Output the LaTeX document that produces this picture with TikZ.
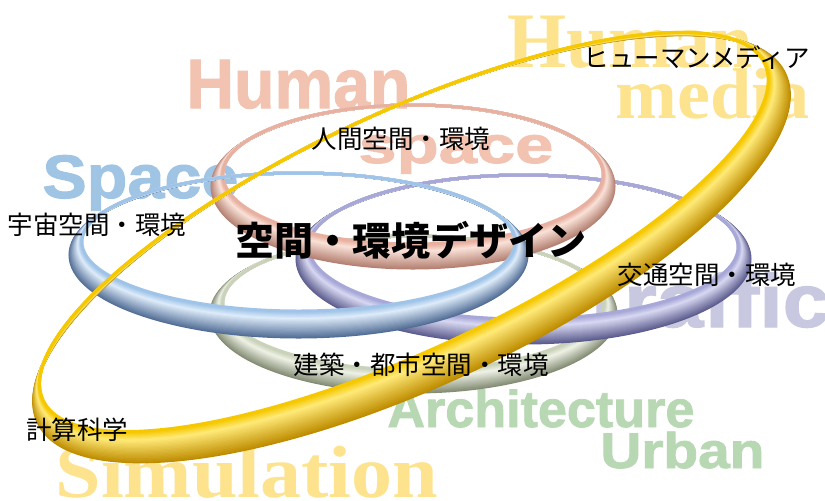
\documentclass[tikz,border=0pt]{standalone}
\usepackage{fontspec}
\usepackage{graphicx}
\newfontfamily\cjk{Noto Sans CJK JP}
\newfontfamily\heavysans[BoldFeatures={FakeBold=1.5}]{Liberation Sans}
\newfontfamily\boldserif{Liberation Serif}
\definecolor{wsalmon}{RGB}{243,195,178}
\definecolor{wblue}{RGB}{160,196,228}
\definecolor{wyellow}{RGB}{253,227,142}
\definecolor{wlav}{RGB}{200,200,224}
\definecolor{wgreen}{RGB}{184,216,180}
\definecolor{rsalb}{RGB}{232,176,160}
\definecolor{rsalh}{RGB}{250,226,216}
\definecolor{rsald}{RGB}{180,128,114}
\definecolor{rblub}{RGB}{160,196,232}
\definecolor{rbluh}{RGB}{222,236,250}
\definecolor{rblud}{RGB}{82,110,150}
\definecolor{rpurb}{RGB}{168,168,216}
\definecolor{rpurh}{RGB}{216,216,242}
\definecolor{rpurd}{RGB}{92,92,142}
\definecolor{rgrnb}{RGB}{202,210,186}
\definecolor{rgrnh}{RGB}{238,242,230}
\definecolor{rgrnd}{RGB}{132,140,116}
\definecolor{rylwb}{RGB}{246,200,0}
\definecolor{rylwh}{RGB}{255,234,120}
\definecolor{rylwd}{RGB}{190,140,0}
% #1 cx, #2 cy, #3 rx0, #4 ry0, #5 sweep s, #6 widen w, #7 angle, #8 colour prefix
\newcommand{\tubering}[8]{%
 \begin{scope}[shift={(#1,#2)},rotate=#7]
  \foreach \i in {24,23,...,0}{%
   \ifnum\i<6\relax
     \pgfmathtruncatemacro\p{\i*100/6}%
     \colorlet{tubecol}{#8h!\p!#8b}%
   \else
     \pgfmathtruncatemacro\p{(\i-6)*100/18}%
     \colorlet{tubecol}{#8d!\p!#8h}%
   \fi
   \draw[tubeline,draw=tubecol] (0,{#5*\i/24}) ellipse [x radius={#3+#6*\i/24}, y radius={#4+#5*\i/24}];
  }%
 \end{scope}}
\begin{document}
\begin{tikzpicture}[x=0.5pt,y=-0.5pt,
  tubeline/.style={line width=1.5pt},
  bigword/.style={anchor=base west,inner sep=0pt},
  lab/.style={inner sep=0pt,font=\cjk\fontsize{12.75pt}{14pt}\selectfont}]
\useasboundingbox (0,0) rectangle (825,500);
\clip (0,0) rectangle (825,500);
\fill[white] (0,0) rectangle (825,500);
% background words
\node[bigword,text=wyellow] (wHumanY) at (507,67) {\resizebox{122.5pt}{\height}{\boldserif\bfseries\fontsize{39.3pt}{40pt}\selectfont Human}};
\node[bigword,text=wyellow] (wMedia) at (615,118) {\resizebox{97pt}{\height}{\boldserif\bfseries\fontsize{36pt}{37pt}\selectfont media}};
\node[bigword,text=wsalmon] (wHuman) at (186,108) {\resizebox{112pt}{\height}{\heavysans\bfseries\fontsize{34.9pt}{36pt}\selectfont Human}};
\node[bigword,text=wsalmon] (wspace) at (358,163) {\resizebox{97.5pt}{\height}{\heavysans\bfseries\fontsize{26pt}{27pt}\selectfont space}};
\node[bigword,text=wblue] (wSpace) at (42,198) {\resizebox{98pt}{\height}{\heavysans\bfseries\fontsize{30.7pt}{32pt}\selectfont Space}};
\node[bigword,text=wlav] (wTraffic) at (577,327) {\resizebox{126pt}{\height}{\heavysans\bfseries\fontsize{37.7pt}{39pt}\selectfont Traffic}};
\node[bigword,text=wgreen] (wArch) at (387,427) {\resizebox{153.5pt}{\height}{\heavysans\bfseries\fontsize{25.8pt}{27pt}\selectfont Architecture}};
\node[bigword,text=wgreen] (wUrban) at (600,468) {\resizebox{82pt}{\height}{\heavysans\bfseries\fontsize{25.1pt}{26pt}\selectfont Urban}};
\node[bigword,text=wyellow] (wSim) at (55,497) {\resizebox{191.5pt}{\height}{\boldserif\bfseries\fontsize{37pt}{38pt}\selectfont Simulation}};
% rings
\tubering{413.5}{303}{190.5}{67}{11}{12}{0}{rgrn}
\tubering{523.5}{247}{214.5}{72}{12}{12}{0}{rpur}
\tubering{413}{174.5}{190}{69.5}{12}{11}{0}{rsal}
\tubering{298.5}{242}{216.5}{69}{13}{12}{0}{rblu}
\tubering{403.9}{231.9}{398}{118.5}{18}{14}{25}{rylw}
% labels
\node[lab] (lHM) at (697,58) {ヒューマンメディア};
\node[lab] (lHS) at (401,139) {人間空間・環境};
\node[lab] (lSP) at (97,225) {宇宙空間・環境};
\node[inner sep=0pt,font=\cjk\bfseries\fontsize{19.5pt}{21pt}\selectfont] (title) at (411,240) {空間・環境デザイン};
\node[lab] (lTR) at (707,275) {交通空間・環境};
\node[lab] (lAR) at (421,365) {建築・都市空間・環境};
\node[lab] (lSI) at (77,430) {計算科学};
\end{tikzpicture}
\end{document}
